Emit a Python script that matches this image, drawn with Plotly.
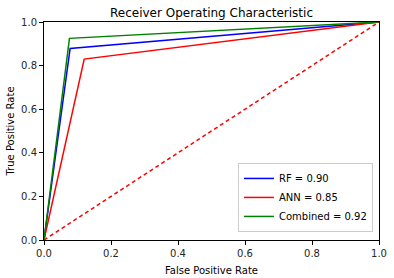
import plotly.graph_objects as go

rf_fpr = [0.0, 0.078, 1.0]
rf_tpr = [0.0, 0.879, 1.0]
ann_fpr = [0.0, 0.12, 1.0]
ann_tpr = [0.0, 0.83, 1.0]
comb_fpr = [0.0, 0.076, 1.0]
comb_tpr = [0.0, 0.925, 1.0]
diag = [0.0, 1.0]
labels = ["RF = 0.90", "ANN = 0.85", "Combined = 0.92"]
ticks = [0.0, 0.2, 0.4, 0.6, 0.8, 1.0]
tick_text = ["0.0", "0.2", "0.4", "0.6", "0.8", "1.0"]

fig = go.Figure()
fig.add_trace(go.Scatter(x=rf_fpr, y=rf_tpr, mode="lines", name=labels[0],
                         line=dict(color="#0000ff", width=1.5)))
fig.add_trace(go.Scatter(x=ann_fpr, y=ann_tpr, mode="lines", name=labels[1],
                         line=dict(color="#ff0000", width=1.5)))
fig.add_trace(go.Scatter(x=comb_fpr, y=comb_tpr, mode="lines", name=labels[2],
                         line=dict(color="#008000", width=1.5)))
fig.add_trace(go.Scatter(x=diag, y=diag, mode="lines", showlegend=False,
                         line=dict(color="#ff0000", width=1.5, dash="4px,3px")))

axis_common = dict(range=[0, 1], tickvals=ticks, ticktext=tick_text,
                   showgrid=False, zeroline=False, showline=True, mirror=True,
                   linecolor="black", linewidth=1, ticks="outside", ticklen=4,
                   tickcolor="black", tickfont=dict(size=10, color="#262626"),
                   automargin=False)

fig.update_layout(
    width=394, height=278,
    margin=dict(l=44, r=15, t=22, b=38),
    paper_bgcolor="white", plot_bgcolor="white",
    font=dict(family="DejaVu Sans", size=10, color="black"),
    title=dict(text="Receiver Operating Characteristic", x=0.5, xref="paper",
               xanchor="center", y=1 - 13 / 278, yanchor="middle", font=dict(size=12)),
    xaxis=dict(title=dict(text="False Positive Rate", standoff=8, font=dict(size=10)), **axis_common),
    yaxis=dict(title=dict(text="True Positive Rate", standoff=4, font=dict(size=10)), **axis_common),
    legend=dict(x=0.982, y=0.037, xanchor="right", yanchor="bottom",
                bgcolor="rgba(255,255,255,0.8)", bordercolor="#cccccc", borderwidth=1,
                font=dict(size=10), itemwidth=30, tracegroupgap=0),
    showlegend=True,
)

fig.write_html("out.html", config={"displayModeBar": False},
               post_script="document.body.style.margin='0';document.body.style.overflow='hidden';")
